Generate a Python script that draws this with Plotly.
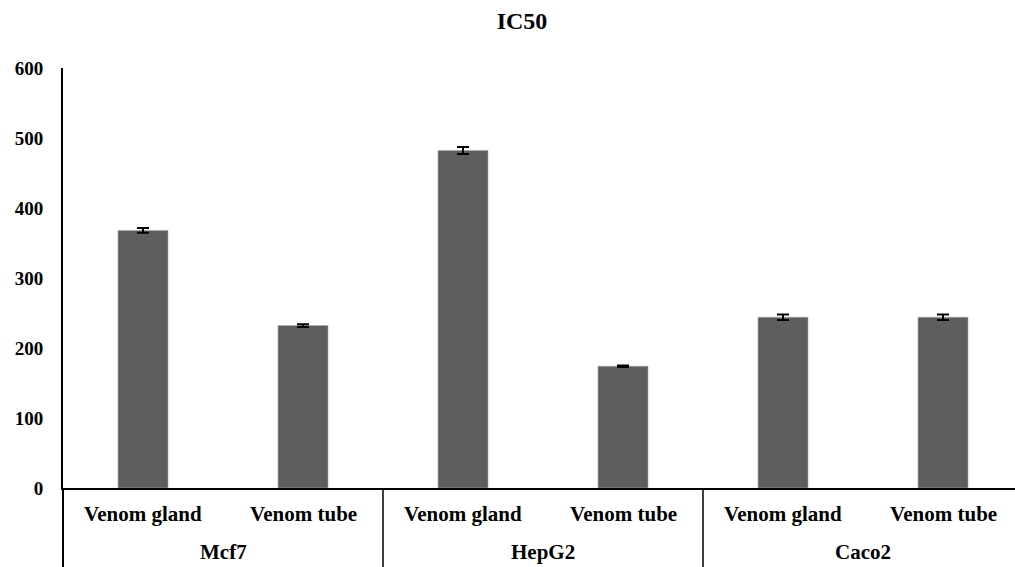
import plotly.graph_objects as go

cell_lines = ["Mcf7", "HepG2", "Caco2"]
sources = ["Venom gland", "Venom tube", "Venom gland", "Venom tube", "Venom gland", "Venom tube"]
ic50 = [368, 232, 482, 174, 244, 244]
err = [3.5, 2, 5, 1, 4, 4]
y_ticks = [0, 100, 200, 300, 400, 500, 600]

font_family = "Liberation Serif, Times New Roman, serif"
bold = dict(family=font_family, color="black", weight="bold")

x_pos = list(range(len(ic50)))

fig = go.Figure(
    go.Bar(
        x=x_pos,
        y=ic50,
        marker=dict(color="#5e5e5e", line=dict(color="#a8a8a8", width=0.6)),
        error_y=dict(type="data", array=err, color="black", thickness=2, width=6),
        width=0.3125,
    )
)

plot_h = 567 - 68 - 79
sub_y = -(514 - 488) / plot_h
grp_y = -(552 - 488) / plot_h
bottom_y = -(567 - 488) / plot_h

annotations = []
for i, s in enumerate(sources):
    annotations.append(dict(
        x=i, y=sub_y, xref="x", yref="paper", text=s, showarrow=False,
        xanchor="center", yanchor="middle", font=dict(size=21, **bold),
    ))
for g, name in enumerate(cell_lines):
    annotations.append(dict(
        x=2 * g + 0.5, y=grp_y, xref="x", yref="paper", text=name, showarrow=False,
        xanchor="center", yanchor="middle", font=dict(size=21, **bold),
    ))

shapes = [
    dict(type="line", xref="paper", yref="paper", x0=0, x1=0, y0=0, y1=bottom_y,
         line=dict(color="black", width=2)),
]
for g in range(1, len(cell_lines)):
    xb = 2 * g - 0.5
    shapes.append(dict(type="line", xref="x", yref="paper", x0=xb, x1=xb, y0=0, y1=bottom_y,
                       line=dict(color="black", width=1.5)))

fig.update_layout(
    width=1015,
    height=567,
    margin=dict(l=63, r=0, t=68, b=79),
    paper_bgcolor="white",
    plot_bgcolor="white",
    showlegend=False,
    title=dict(
        text="IC50",
        x=522 / 1015,
        xanchor="center",
        y=1 - 21 / 567,
        yanchor="middle",
        font=dict(size=24, **bold),
    ),
    font=dict(family=font_family, color="black"),
    annotations=annotations,
    shapes=shapes,
)

fig.update_xaxes(
    range=[-0.5, 5.45],
    showline=True,
    linecolor="black",
    linewidth=1.5,
    showgrid=False,
    zeroline=False,
    ticks="",
    showticklabels=False,
)

fig.update_yaxes(
    range=[0, 600],
    tickvals=y_ticks,
    showline=True,
    linecolor="black",
    linewidth=2,
    showgrid=False,
    zeroline=False,
    ticks="",
    ticklabelstandoff=14,
    tickfont=dict(size=19, **bold),
)

fig.write_html("out.html")
